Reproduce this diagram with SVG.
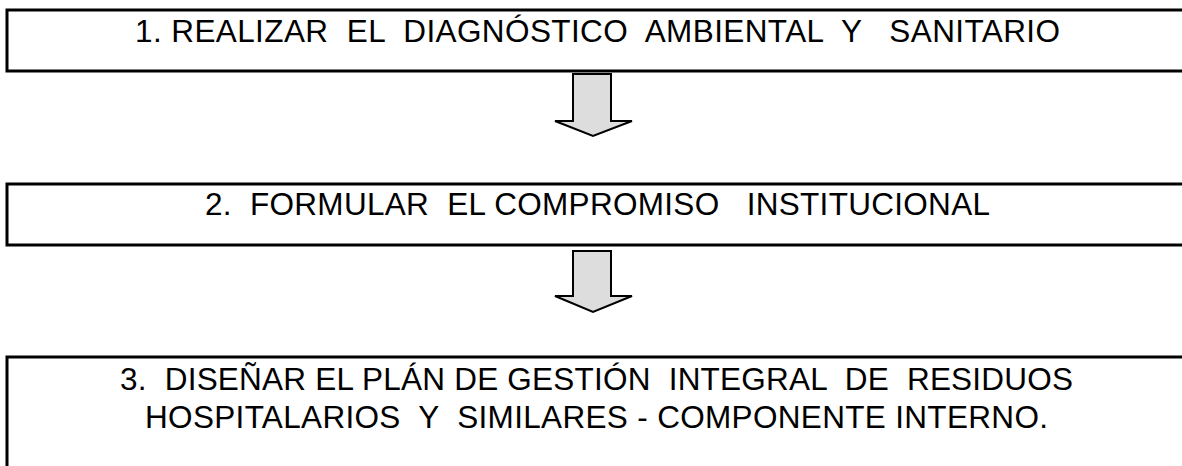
<svg xmlns="http://www.w3.org/2000/svg" width="1182" height="466" viewBox="0 0 1182 466">
<style>
.box{fill:#fff;stroke:#000;stroke-width:3}
.t{font-family:"Liberation Sans",Arial,sans-serif;font-size:31.5px;fill:#000;white-space:pre}
.arr{fill:#dddddd;stroke:#000;stroke-width:2;stroke-linejoin:miter}
</style>
<rect width="1182" height="466" fill="#fff"/>
<g id="node1">
<rect class="box" x="7" y="10" width="1190" height="61"/>
<text class="t" x="135" y="42" textLength="925" xml:space="preserve">1. REALIZAR  EL  DIAGNÓSTICO  AMBIENTAL  Y   SANITARIO</text>
</g>
<g id="node2">
<rect class="box" x="7" y="184" width="1190" height="61"/>
<text class="t" x="205" y="215" textLength="785" xml:space="preserve">2.  FORMULAR  EL COMPROMISO   INSTITUCIONAL</text>
</g>
<g id="node3">
<rect class="box" x="7" y="357" width="1190" height="130"/>
<text class="t" x="120" y="390" textLength="953" xml:space="preserve">3.  DISEÑAR EL PLÁN DE GESTIÓN  INTEGRAL  DE  RESIDUOS</text>
<text class="t" x="145" y="428" textLength="903" xml:space="preserve">HOSPITALARIOS  Y  SIMILARES - COMPONENTE INTERNO.</text>
</g>
<g id="connectors">
<polygon class="arr" points="573,74 611,74 611,121 632,121 593,136 555,121 573,121"/>
<polygon class="arr" points="573,251 611,251 611,296 632,296 593,312 555,296 573,296"/>
</g>
</svg>
